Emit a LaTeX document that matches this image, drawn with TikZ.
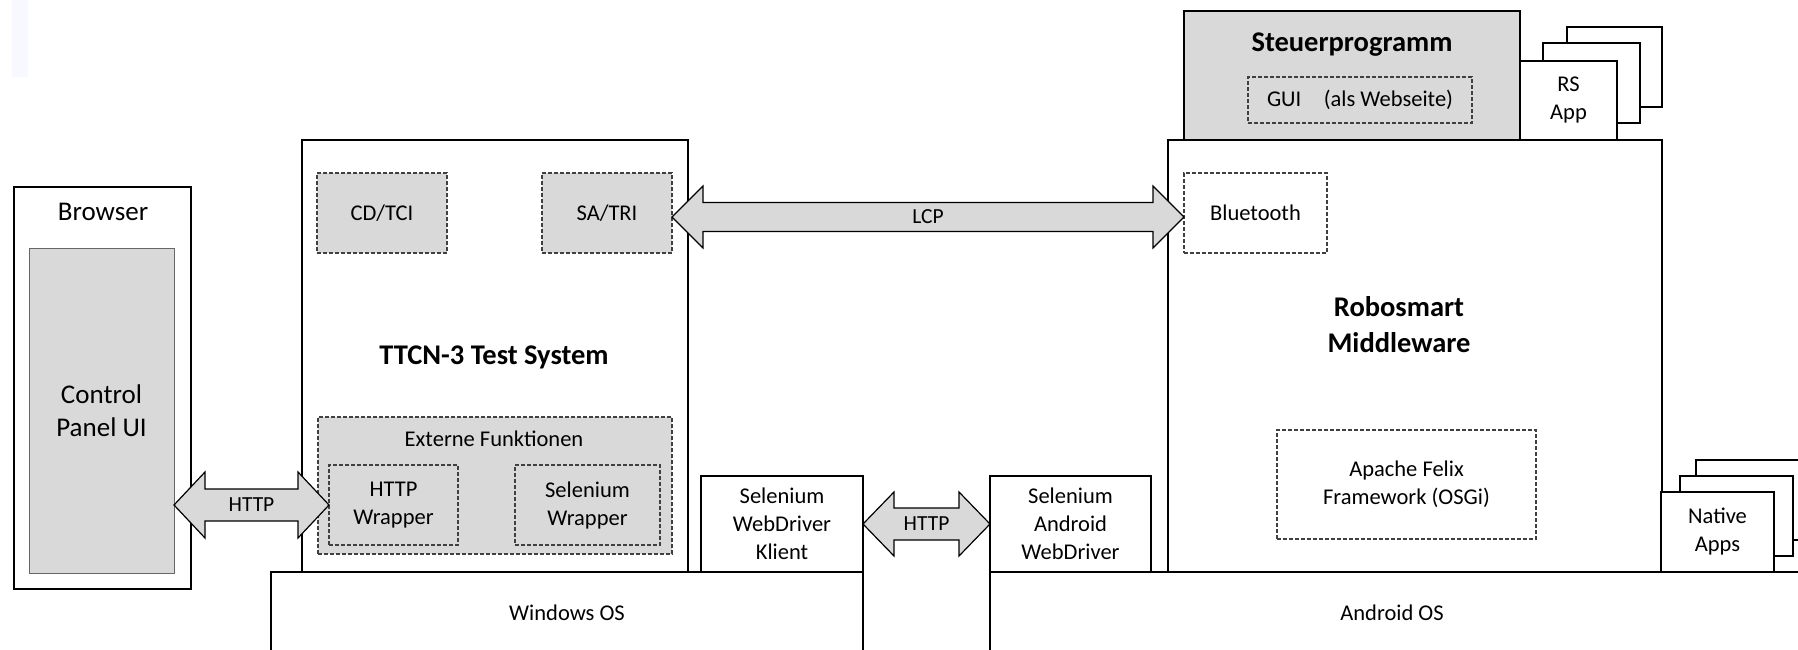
\documentclass[tikz,border=0pt]{standalone}
\usepackage{fontspec}
\setmainfont{Carlito}
\usetikzlibrary{calc}
\definecolor{boxgray}{RGB}{217,217,217}
\definecolor{faint}{RGB}{248,248,255}
\newcommand\bx[7]{\node[#2,anchor=north west,minimum width={(#5-#3)*1pt},minimum height={(#6-#4)*1pt}] (#1) at (#3,#4) {#7};}
\newcommand\blockarrow[5]{%
  \draw[barrow] let \p1=(#1), \p2=(#2) in
  (\x1,\y1) -- (\x1+#3pt,\y1+#4pt) -- (\x1+#3pt,\y1+#5pt) -- (\x2-#3pt,\y1+#5pt) -- (\x2-#3pt,\y1+#4pt) -- (\x2,\y1)
  -- (\x2-#3pt,\y1-#4pt) -- (\x2-#3pt,\y1-#5pt) -- (\x1+#3pt,\y1-#5pt) -- (\x1+#3pt,\y1-#4pt) -- cycle;}
\begin{document}
\begin{tikzpicture}[x=1pt,y=-1pt,
  every node/.style={inner sep=0pt,outer sep=0pt,align=center,font=\fontsize{22.5}{28}\selectfont},
  solidbox/.style={draw=black,line width=2pt,fill=white},
  dashgray/.style={draw=black!75,line width=1.3pt,dash pattern=on 4pt off 2pt,fill=boxgray},
  dashwhite/.style={draw=black!75,line width=1.3pt,dash pattern=on 4pt off 2pt,fill=white},
  cpbox/.style={draw=black!60,line width=1pt,fill=boxgray,font=\fontsize{27}{32.5}\selectfont},
  bigtxt/.style={font=\fontsize{27}{33}\selectfont},
  titletxt/.style={font=\bfseries\fontsize{28.5}{36}\selectfont},
  barrow/.style={draw=black,line width=1.2pt,fill=boxgray,line join=miter},
  lbl/.style={font=\fontsize{21.5}{28}\selectfont}]
\useasboundingbox (0,0) rectangle (1798,650);
\clip (0,0) rectangle (1798,650);
\fill[faint] (12,0) rectangle (28,77);
% Browser
\bx{browser}{solidbox}{14}{187}{191}{589}{}
\node[bigtxt] (browserlbl) at (103,212) {Browser};
\bx{cp}{cpbox}{29}{248}{174}{573}{Control\\Panel UI}
% TTCN-3
\bx{ttcn}{solidbox}{302}{140}{688}{572}{}
\node[titletxt] (ttcnlbl) at (494,357) {TTCN-3 Test System};
\bx{cdtci}{dashgray}{317}{173}{447}{253}{CD/TCI}
\bx{satri}{dashgray}{542}{173}{672}{253}{SA/TRI}
\bx{ext}{dashgray}{318}{417}{672}{554}{}
\node (extlbl) at (494,439) {Externe Funktionen};
\bx{hw}{dashgray}{329}{465}{458}{545}{HTTP\\Wrapper}
\bx{sw}{dashgray}{515}{465}{660}{545}{Selenium\\Wrapper}
% Windows OS
\bx{win}{solidbox}{271}{572}{863}{690}{}
\node (winlbl) at (567,613) {Windows OS};
\bx{klient}{solidbox}{701}{476}{863}{572}{Selenium\\WebDriver\\Klient}
% Android
\bx{aos}{solidbox}{990}{572}{1830}{690}{}
\node (aoslbl) at (1392,613) {Android OS};
\bx{sad}{solidbox}{990}{476}{1151}{572}{Selenium\\Android\\WebDriver}
% Robosmart
\bx{rob}{solidbox}{1168}{140}{1662}{572}{}
\node[titletxt] (roblbl) at (1399,325) {Robosmart\\Middleware};
\bx{bt}{dashwhite}{1184}{173}{1327}{253}{Bluetooth}
\bx{felix}{dashwhite}{1277}{430}{1536}{539}{Apache Felix\\Framework (OSGi)}
% Steuerprogramm
\bx{steuer}{solidbox,fill=boxgray}{1184}{11}{1520}{140}{}
\node[titletxt] (steuerlbl) at (1352,45) {Steuerprogramm};
\bx{gui}{dashgray}{1248}{77}{1472}{123}{GUI\quad(als Webseite)}
% RS App cards
\bx{rs3}{solidbox}{1567}{27}{1662}{107}{}
\bx{rs2}{solidbox}{1543}{43}{1640}{123}{}
\bx{rs1}{solidbox}{1520}{61}{1617}{140}{RS\\App}
% Native App cards
\bx{nat3}{solidbox}{1696}{460}{1815}{540}{}
\bx{nat2}{solidbox}{1680}{476}{1793}{556}{}
\bx{nat1}{solidbox}{1661}{492}{1774}{572}{Native\\Apps}
% Arrows
\blockarrow{cp.east |- hw.west}{hw.west}{31}{33}{16}
\node[lbl] (http1) at ($(cp.east |- hw.west)!0.5!(hw.west)$) {HTTP};
\blockarrow{[yshift=-4pt]satri.east}{[yshift=-4pt]bt.west}{31}{31}{14.5}
\node[lbl] (lcp) at ($([yshift=-4pt]satri.east)!0.5!([yshift=-4pt]bt.west)$) {LCP};
\blockarrow{klient.east}{sad.west}{31}{32}{16}
\node[lbl] (http2) at ($(klient.east)!0.5!(sad.west)$) {HTTP};
\end{tikzpicture}
\end{document}
